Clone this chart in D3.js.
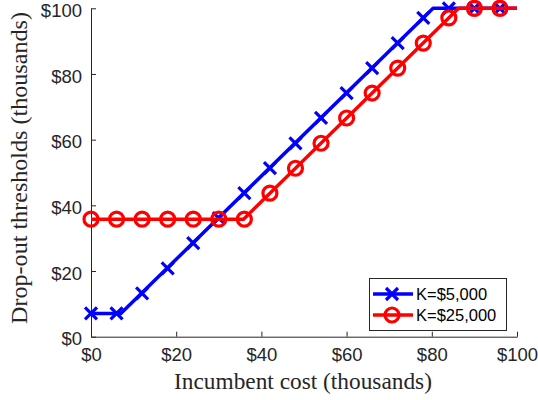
<!DOCTYPE html>
<html>
<head>
<meta charset="utf-8">
<script src="https://cdn.jsdelivr.net/npm/d3@7"></script>
<style>
    html, body { margin: 0; padding: 0; background: #fff; }
    svg { display: block; }
</style>
</head>
<body>
<svg id="chart"></svg>
<script>
// line vertices (incumbent cost, thousands)
const lineX5k = [0, 7, 80.3, 100];
const lineY5k = [7.1, 7.1, 100, 100];
const lineX25k = [0, 35.8, 86.3, 100];
const lineY25k = [35.8, 35.8, 100, 100];

// marker positions
const markerX = [0, 6, 12, 18, 24, 30, 36, 42, 48, 54, 60, 66, 72, 78, 84, 90, 96];
const markerY5k = [7.1, 7.1, 13.2, 20.8, 28.5, 36.1, 43.7, 51.3, 58.9, 66.6, 74.2, 81.8, 89.4, 97.1, 100, 100, 100];
const markerY25k = [35.8, 35.8, 35.8, 35.8, 35.8, 35.8, 35.8, 43.7, 51.3, 58.9, 66.6, 74.2, 81.8, 89.4, 97.1, 100, 100];

const xTicks = [0, 20, 40, 60, 80, 100];
const yTicks = [0, 20, 40, 60, 80, 100];
const seriesNames = ['K=$5,000', 'K=$25,000'];

const width = 538;
const height = 400;
const axisColor = '#262626';
const tickFont = '"Liberation Sans", Arial, Helvetica, sans-serif';
const labelFont = '"Liberation Serif", "Times New Roman", serif';

const svg = d3.select('#chart')
    .attr('width', width)
    .attr('height', height);

const x = d3.scaleLinear().domain([0, 100]).range([91, 517]);
const y = d3.scaleLinear().domain([0, 100]).range([336.7, 8.3]);

const money = d => `$${d}`;

// axes, ticks pointing inward like matlab
const xAxis = svg.append('g')
    .attr('transform', `translate(0,${y(0)})`)
    .call(d3.axisBottom(x).tickValues(xTicks).tickFormat(money).tickSizeInner(-5).tickSizeOuter(0).tickPadding(9));

const yAxis = svg.append('g')
    .attr('transform', `translate(${x(0)},0)`)
    .call(d3.axisLeft(y).tickValues(yTicks).tickFormat(money).tickSizeInner(-5).tickSizeOuter(0).tickPadding(9));

[xAxis, yAxis].forEach(axis => {
    axis.select('.domain').attr('stroke', axisColor);
    axis.selectAll('.tick line').attr('stroke', axisColor);
    axis.selectAll('.tick text')
        .attr('fill', axisColor)
        .style('font-family', tickFont)
        .style('font-size', '18.5px');
});
xAxis.selectAll('.tick text').attr('dy', '0.85em');
yAxis.selectAll('.tick text').attr('dy', '0.44em');

// labels, stretched to the reference width
const fitLabel = (sel, target) => {
    const len = sel.node().getComputedTextLength();
    sel.style('font-size', `${19 * target / len}px`);
};

const xLabel = svg.append('text')
    .attr('x', 303)
    .attr('y', 389)
    .attr('text-anchor', 'middle')
    .attr('fill', axisColor)
    .style('font-family', labelFont)
    .style('font-size', '19px')
    .text('Incumbent cost (thousands)');
fitLabel(xLabel, 258);

const yLabel = svg.append('text')
    .attr('transform', 'translate(27,168) rotate(-90)')
    .attr('text-anchor', 'middle')
    .attr('fill', axisColor)
    .style('font-family', labelFont)
    .style('font-size', '19px')
    .text('Drop-out thresholds (thousands)');
fitLabel(yLabel, 312);

const series = [
    { name: seriesNames[0], color: '#0000ff', marker: 'x', lx: lineX5k, ly: lineY5k, my: markerY5k },
    { name: seriesNames[1], color: '#ff0000', marker: 'o', lx: lineX25k, ly: lineY25k, my: markerY25k },
];

const line = d3.line()
    .x(d => x(d[0]))
    .y(d => y(d[1]));

const drawMarker = (g, type, color) => {
    if (type === 'x') {
        g.append('path')
            .attr('d', 'M-6,-6L6,6M-6,6L6,-6')
            .attr('stroke', color)
            .attr('stroke-width', 3.2)
            .attr('fill', 'none');
    } else {
        g.append('circle')
            .attr('r', 7)
            .attr('stroke', color)
            .attr('stroke-width', 3.2)
            .attr('fill', 'none');
    }
};

const plot = svg.append('g').attr('class', 'plot');

series.forEach(s => {
    const g = plot.append('g');
    g.append('path')
        .datum(s.lx.map((v, i) => [v, s.ly[i]]))
        .attr('d', line)
        .attr('fill', 'none')
        .attr('stroke', s.color)
        .attr('stroke-width', 3.5)
        .attr('stroke-linejoin', 'round');

    g.selectAll('.marker')
        .data(markerX.map((v, i) => [v, s.my[i]]))
        .enter()
        .append('g')
        .attr('class', 'marker')
        .attr('transform', d => `translate(${x(d[0])},${y(d[1])})`)
        .each(function () { drawMarker(d3.select(this), s.marker, s.color); });
});

// legend
const legend = svg.append('g').attr('class', 'legend');
legend.append('rect')
    .attr('x', 369.5)
    .attr('y', 278.5)
    .attr('width', 137)
    .attr('height', 52)
    .attr('fill', '#fff')
    .attr('stroke', axisColor)
    .attr('stroke-width', 1);

series.forEach((s, i) => {
    const row = legend.append('g').attr('transform', `translate(0,${294 + i * 21})`);
    row.append('line')
        .attr('x1', 373).attr('x2', 413)
        .attr('stroke', s.color)
        .attr('stroke-width', 3.5);
    drawMarker(row.append('g').attr('transform', 'translate(392,0)'), s.marker, s.color);
    row.append('text')
        .attr('x', 416)
        .attr('dy', '0.36em')
        .attr('fill', '#000')
        .style('font-family', tickFont)
        .style('font-size', '16.5px')
        .text(s.name);
});
</script>
</body>
</html>
